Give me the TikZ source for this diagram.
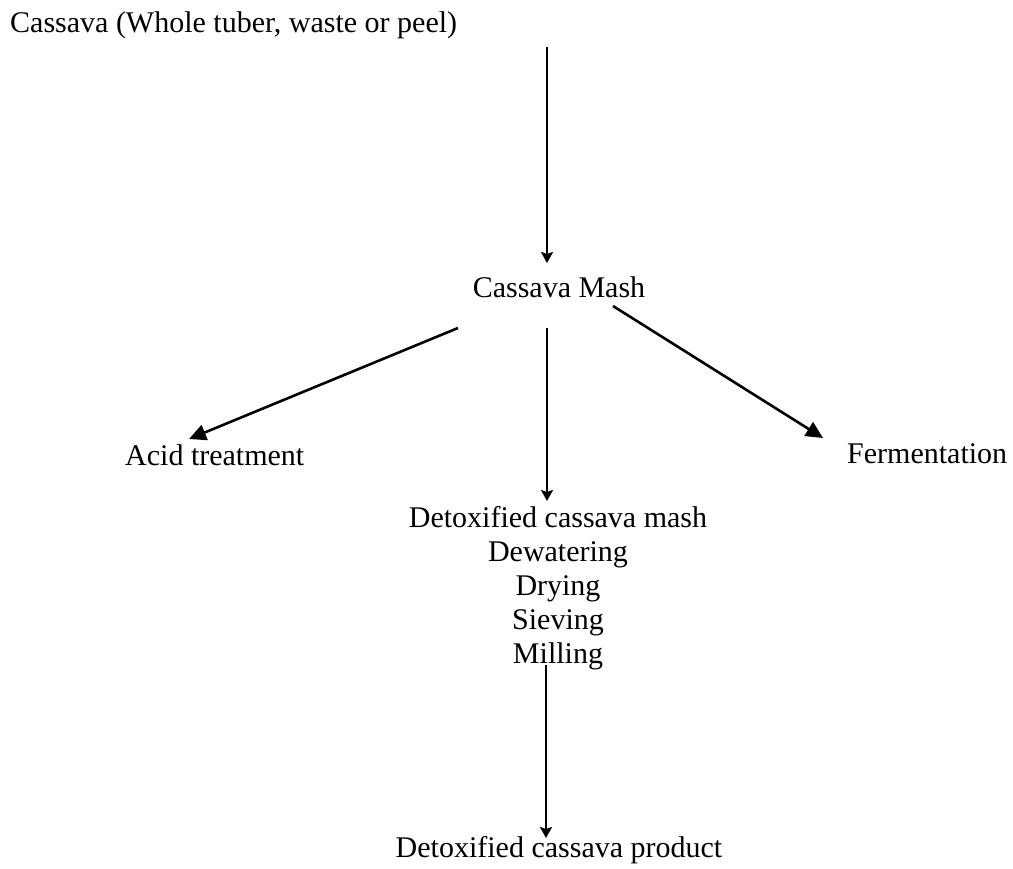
\documentclass[tikz,border=0pt]{standalone}
\usepackage{fontspec}
\setmainfont{Liberation Serif}
\usetikzlibrary{arrows.meta}
\tikzset{
  lbl/.style={inner sep=0pt, font=\fontsize{30}{34}\selectfont, text=black},
  varr/.style={line width=2.6pt, -{Stealth[length=11pt,width=12pt,inset=2pt]}},
  darr/.style={line width=2.6pt, -{Triangle[length=17pt,width=16pt]}},
  plain/.style={line width=2.6pt}
}
\begin{document}
\begin{tikzpicture}[x=1pt,y=-1pt]
\useasboundingbox (0,0) rectangle (1013,869);
% texts
\node[lbl, anchor=base west] (title) at (10,33) {Cassava (Whole tuber, waste or peel)};
\node[lbl, anchor=base] (mash) at (559,298) {Cassava Mash};
\node[lbl, anchor=base west] (acid) at (125,465) {Acid treatment};
\node[lbl, anchor=base west] (ferm) at (847,463) {Fermentation};
\node[lbl, anchor=base] (detox) at (558,527) {Detoxified cassava mash};
\node[lbl, anchor=base] (dewat) at (558,561) {Dewatering};
\node[lbl, anchor=base] (dry) at (558,595) {Drying};
\node[lbl, anchor=base] (siev) at (558,629) {Sieving};
\node[lbl, anchor=base] (mill) at (558,663) {Milling};
\node[lbl, anchor=base] (prod) at (559,857) {Detoxified cassava product};
% connector end points
\coordinate (t0) at (547,47);
\coordinate (t1) at (547,263);
\coordinate (m0) at (547,328);
\coordinate (m1) at (547,501);
\coordinate (l0) at (458,328);
\coordinate (l1) at (189,439);
\coordinate (r0) at (613,306);
\coordinate (r1) at (823,438);
\coordinate (b0) at (546,665);
\coordinate (b1) at (546,838);
% connectors
\draw[varr] (t0) -- (t1);
\draw[varr] (m0) -- (m1);
\draw[darr] (l0) -- (l1);
\draw[darr] (r0) -- (r1);
\draw[varr] (b0) -- (b1);
\end{tikzpicture}
\end{document}
